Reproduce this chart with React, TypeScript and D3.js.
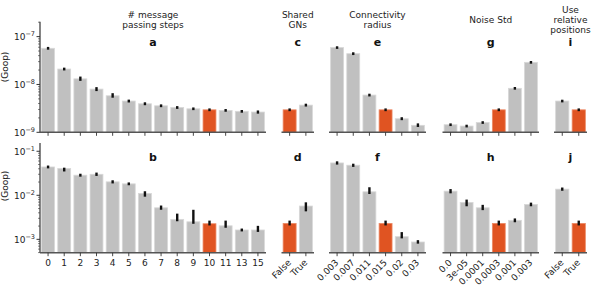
import React, { useEffect, useRef } from "react"
import * as d3 from "d3"

const WIDTH = 598
const HEIGHT = 293

const GRAY = "#c0c0c0"
const ORANGE = "#e05422"

// column headers
const headers = [
	["# message", "passing steps"],
	["Shared", "GNs"],
	["Connectivity", "radius"],
	["Noise Std"],
	["Use", "relative", "positions"],
]
const topLetters = ["a", "c", "e", "g", "i"]
const bottomLetters = ["b", "d", "f", "h", "j"]

// categories
const stepsCats = ["0", "1", "2", "3", "4", "5", "6", "7", "8", "9", "10", "11", "13", "15"]
const sharedCats = ["False", "True"]
const radiusCats = ["0.003", "0.007", "0.011", "0.015", "0.02", "0.03"]
const noiseCats = ["0.0", "3e-05", "0.0001", "0.0003", "0.001", "0.003"]
const relPosCats = ["False", "True"]
const defaultIdx = [10, 0, 3, 3, 1]

// top row values (Goop)
const topSteps = [5.7e-8, 2.1e-8, 1.31e-8, 8.0e-9, 5.8e-9, 4.5e-9, 3.95e-9, 3.58e-9, 3.3e-9, 3.1e-9, 2.95e-9, 2.87e-9, 2.74e-9, 2.65e-9]
const topShared = [2.95e-9, 3.7e-9]
const topRadius = [5.9e-8, 4.4e-8, 6.0e-9, 2.95e-9, 1.92e-9, 1.4e-9]
const topNoise = [1.44e-9, 1.35e-9, 1.6e-9, 2.95e-9, 8.3e-9, 2.9e-8]
const topRelPos = [4.5e-9, 2.95e-9]

const topStepsErr = [[5.65e-8, 5.75e-8], [2.08e-8, 2.12e-8], [1.26e-8, 1.38e-8], [7.7e-9, 8.3e-9], [5.6e-9, 6.2e-9], [4.45e-9, 4.55e-9], [3.9e-9, 4.0e-9], [3.55e-9, 3.62e-9], [3.27e-9, 3.33e-9], [3.08e-9, 3.12e-9], [2.93e-9, 2.98e-9], [2.85e-9, 2.89e-9], [2.72e-9, 2.76e-9], [2.6e-9, 2.7e-9]]
const topSharedErr = [[2.93e-9, 2.98e-9], [3.66e-9, 3.74e-9]]
const topRadiusErr = [[5.87e-8, 5.93e-8], [4.36e-8, 4.44e-8], [5.95e-9, 6.05e-9], [2.93e-9, 2.98e-9], [1.9e-9, 1.95e-9], [1.37e-9, 1.45e-9]]
const topNoiseErr = [[1.43e-9, 1.45e-9], [1.34e-9, 1.36e-9], [1.59e-9, 1.61e-9], [2.93e-9, 2.98e-9], [8.25e-9, 8.35e-9], [2.88e-8, 2.92e-8]]
const topRelPosErr = [[4.47e-9, 4.53e-9], [2.93e-9, 2.98e-9]]

// bottom row values (Goop)
const botSteps = [0.044, 0.0406, 0.0286, 0.030, 0.0202, 0.0182, 0.011, 0.0052, 0.00284, 0.0025, 0.00226, 0.00203, 0.00163, 0.00163]
const botShared = [0.0023, 0.0057]
const botRadius = [0.0543, 0.0482, 0.012, 0.0023, 0.00115, 0.00087]
const botNoise = [0.0124, 0.0069, 0.0052, 0.0023, 0.0027, 0.0062]
const botRelPos = [0.0138, 0.0023]

const botStepsErr = [[0.0435, 0.0445], [0.037, 0.0398], [0.0282, 0.029], [0.0293, 0.0308], [0.0198, 0.0206], [0.018, 0.0184], [0.0099, 0.0116], [0.005, 0.0055], [0.00274, 0.0036], [0.0024, 0.0044], [0.0022, 0.0025], [0.00195, 0.0025], [0.00161, 0.00165], [0.00157, 0.0019]]
const botSharedErr = [[0.0022, 0.0025], [0.0046, 0.0065]]
const botRadiusErr = [[0.053, 0.0555], [0.047, 0.049], [0.0114, 0.0143], [0.0022, 0.0025], [0.00112, 0.00137], [0.00085, 0.0009]]
const botNoiseErr = [[0.0118, 0.013], [0.006, 0.0075], [0.0049, 0.0057], [0.0022, 0.0025], [0.0026, 0.0028], [0.006, 0.0064]]
const botRelPosErr = [[0.0135, 0.0141], [0.0022, 0.0025]]

const columns = [
	{ cats: stepsCats, top: topSteps, topErr: topStepsErr, bot: botSteps, botErr: botStepsErr, x0: 40, x1: 266, rotate: false },
	{ cats: sharedCats, top: topShared, topErr: topSharedErr, bot: botShared, botErr: botSharedErr, x0: 281.5, x1: 314, rotate: true },
	{ cats: radiusCats, top: topRadius, topErr: topRadiusErr, bot: botRadius, botErr: botRadiusErr, x0: 329, x1: 426, rotate: true },
	{ cats: noiseCats, top: topNoise, topErr: topNoiseErr, bot: botNoise, botErr: botNoiseErr, x0: 442.5, x1: 539, rotate: true },
	{ cats: relPosCats, top: topRelPos, topErr: topRelPosErr, bot: botRelPos, botErr: botRelPosErr, x0: 554, x1: 587, rotate: true },
]

const rows = [
	{ domain: [1e-9, 2.05e-7], range: [132.3, 21.7], ticks: [1e-9, 1e-8, 1e-7], labelY: 67, letterY: 46 },
	{ domain: [4.97e-4, 0.154], range: [252.7, 143], ticks: [1e-3, 1e-2, 1e-1], labelY: 186, letterY: 161 },
]

const FONT = "DejaVu Sans, sans-serif"

const App = () => {
	const svgRef = useRef(null)

	useEffect(() => {
		const svg = d3.select(svgRef.current)
		svg.selectAll("*").remove()

		// column headers
		headers.forEach((lines, ci) => {
			const col = columns[ci]
			const cx = (col.x0 + col.x1) / 2
			const n = lines.length
			lines.forEach((line, li) => {
				const cy = 20 + (li - (n - 1) / 2) * 10
				svg.append("text")
					.attr("x", cx)
					.attr("y", cy + 3.3)
					.attr("text-anchor", "middle")
					.style("font-family", FONT)
					.style("font-size", "9px")
					.style("fill", "#222")
					.text(line)
			})
		})

		rows.forEach((row, ri) => {
			const yScale = d3.scaleLog().domain(row.domain).range(row.range)
			const yBottom = row.range[0]
			const yTop = row.range[1]

			// left spine + ticks
			const axisG = svg.append("g")
			axisG.append("line")
				.attr("x1", 40).attr("x2", 40)
				.attr("y1", yTop).attr("y2", yBottom)
				.attr("stroke", "#333").attr("stroke-width", 1.2)

			const lo = Math.floor(Math.log10(row.domain[0]))
			const hi = Math.ceil(Math.log10(row.domain[1]))
			for (let e = lo; e <= hi; e++) {
				for (let m = 1; m < 10; m++) {
					const v = m * Math.pow(10, e)
					if (v < row.domain[0] * 0.999 || v > row.domain[1]) continue
					const y = yScale(v)
					axisG.append("line")
						.attr("x1", 40).attr("x2", m === 1 ? 36.5 : 38)
						.attr("y1", y).attr("y2", y)
						.attr("stroke", "#333").attr("stroke-width", m === 1 ? 1 : 0.6)
				}
			}
			row.ticks.forEach((t) => {
				const y = yScale(t)
				const txt = axisG.append("text")
					.attr("x", 35)
					.attr("y", y + 3.5)
					.attr("text-anchor", "end")
					.style("font-family", FONT)
					.style("font-size", "9px")
					.style("fill", "#222")
				txt.append("tspan").text("10")
				txt.append("tspan")
					.attr("dy", -4)
					.style("font-size", "6.5px")
					.text("\u2212" + Math.round(-Math.log10(t)))
			})

			svg.append("text")
				.attr("transform", `translate(8,${row.labelY}) rotate(-90)`)
				.attr("text-anchor", "middle")
				.style("font-family", FONT)
				.style("font-size", "9px")
				.style("fill", "#222")
				.text("(Goop)")

			columns.forEach((col, ci) => {
				const values = ri === 0 ? col.top : col.bot
				const errs = ri === 0 ? col.topErr : col.botErr
				const xScale = d3.scaleBand()
					.domain(col.cats)
					.range([col.x0, col.x1])
					.paddingInner(0.2)
					.paddingOuter(0.1)
				const g = svg.append("g")

				g.selectAll("rect.bar")
					.data(values)
					.enter()
					.append("rect")
					.attr("x", (d, i) => xScale(col.cats[i]))
					.attr("width", xScale.bandwidth())
					.attr("y", (d) => yScale(d))
					.attr("height", (d) => yBottom - yScale(d))
					.attr("fill", (d, i) => (i === defaultIdx[ci] ? ORANGE : GRAY))
					.attr("stroke", (d, i) => (i === defaultIdx[ci] ? "#ec8a66" : "#d8d8d8"))
					.attr("stroke-width", 0.8)

				g.selectAll("line.err")
					.data(errs)
					.enter()
					.append("line")
					.attr("x1", (d, i) => xScale(col.cats[i]) + xScale.bandwidth() / 2)
					.attr("x2", (d, i) => xScale(col.cats[i]) + xScale.bandwidth() / 2)
					.attr("y1", (d) => yScale(d[0]))
					.attr("y2", (d) => yScale(d[1]))
					.attr("stroke", "#111")
					.attr("stroke-width", 2.4)
					.attr("stroke-linecap", "square")

				// bottom spine
				g.append("line")
					.attr("x1", col.x0).attr("x2", col.x1)
					.attr("y1", yBottom).attr("y2", yBottom)
					.attr("stroke", "#555").attr("stroke-width", 1.6)

				col.cats.forEach((c) => {
					const x = xScale(c) + xScale.bandwidth() / 2
					g.append("line")
						.attr("x1", x).attr("x2", x)
						.attr("y1", yBottom).attr("y2", yBottom + 3.5)
						.attr("stroke", "#333").attr("stroke-width", 0.9)
					if (ri === 1) {
						if (col.rotate) {
							g.append("text")
								.attr("transform", `translate(${x + 2},${yBottom + 10.5}) rotate(-45)`)
								.attr("text-anchor", "end")
								.style("font-family", FONT)
								.style("font-size", "9px")
								.style("fill", "#222")
								.text(c)
						} else {
							g.append("text")
								.attr("x", x)
								.attr("y", yBottom + 13.5)
								.attr("text-anchor", "middle")
								.style("font-family", FONT)
								.style("font-size", "9px")
								.style("fill", "#222")
								.text(c)
						}
					}
				})

				const letter = ri === 0 ? topLetters[ci] : bottomLetters[ci]
				svg.append("text")
					.attr("x", (col.x0 + col.x1) / 2)
					.attr("y", row.letterY)
					.attr("text-anchor", "middle")
					.style("font-family", FONT)
					.style("font-size", "11px")
					.style("font-weight", "bold")
					.style("fill", "#111")
					.text(letter)
			})
		})
	}, [])

	return (
		<svg
			ref={svgRef}
			width={WIDTH}
			height={HEIGHT}
			style={{ position: "absolute", left: 0, top: 0, background: "white", display: "block" }}
		></svg>
	)
}

export default App
